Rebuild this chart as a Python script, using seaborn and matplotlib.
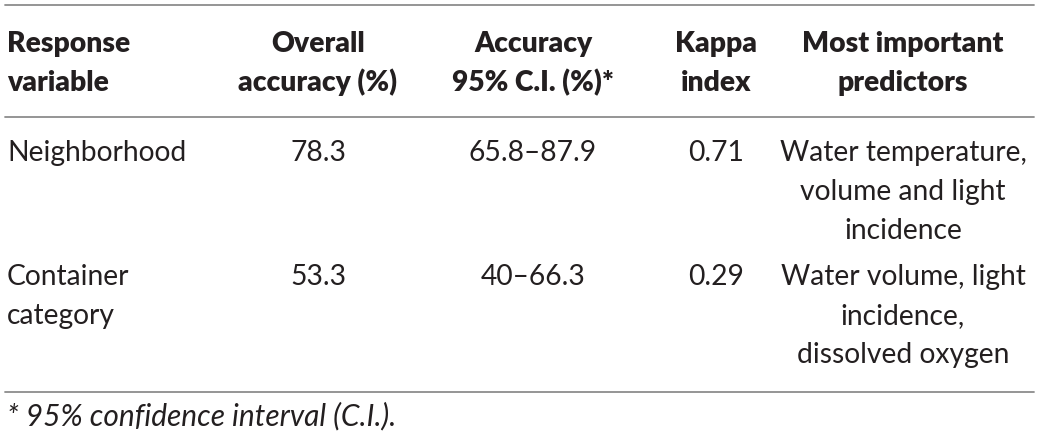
import seaborn as sns
import matplotlib.pyplot as plt

sns.set_theme(style="white")
plt.rcParams['font.family'] = ['Lato', 'DejaVu Sans']

headers = ["Response\nvariable", "Overall\naccuracy (%)", "Accuracy\n95% C.I. (%)*",
           "Kappa\nindex", "Most important\npredictors"]
variables = ["Neighborhood", "Container\ncategory"]
overall = ["78.3", "53.3"]
ci = ["65.8\u201387.9", "40\u201366.3"]
kappa = ["0.71", "0.29"]
predictors = ["Water temperature,\nvolume and light\nincidence",
              "Water volume, light\nincidence,\ndissolved oxygen"]
footnote = "* 95% confidence interval (C.I.)."

W, H = 1039, 441
fig = plt.figure(figsize=(W / 100, H / 100), dpi=100)
ax = fig.add_axes([0, 0, 1, 1])
ax.set_xlim(0, W)
ax.set_ylim(H, 0)
ax.axis('off')

txt = '#231f20'
line_c = '#8c8c8c'
fs = 20.3
step = 39

col_x = [7, 318, 533, 716, 903]
aligns = ['left', 'center', 'center', 'center', 'center']


def cell(x, y, s, ha, **kw):
    # one text per line so every baseline sits where we want it
    for k, part in enumerate(s.split('\n')):
        ax.text(x, y + k * step, part, ha=ha, va='baseline', fontsize=fs,
                color=txt, **kw)


# horizontal rules
for y in [5, 117, 392]:
    ax.plot([5, 1034], [y, y], color=line_c, lw=1.3)

for x, a, h in zip(col_x, aligns, headers):
    cell(x, 52, h, a, fontweight='heavy')

row_y = [161, 285]
for i, y in enumerate(row_y):
    vals = [variables[i], overall[i], ci[i], kappa[i], predictors[i]]
    for x, a, v in zip(col_x, aligns, vals):
        cell(x, y, v, a)

ax.text(7, 425, footnote, ha='left', va='baseline', fontsize=21.5,
        style='italic', color=txt)

fig.savefig('out.png', dpi=100)
